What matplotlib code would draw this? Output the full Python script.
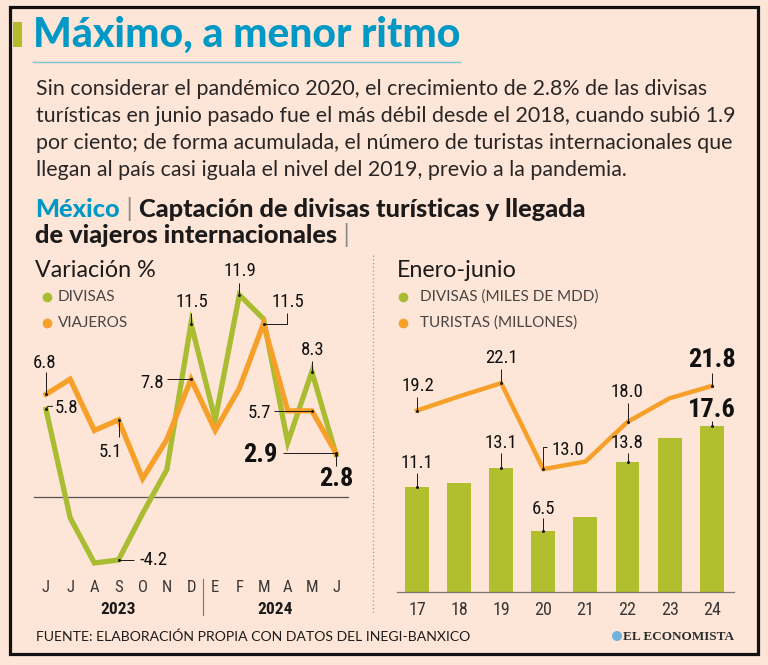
import matplotlib
matplotlib.use('Agg')
import matplotlib.pyplot as plt
from matplotlib import font_manager
from matplotlib.patches import Rectangle, Circle

# ---------------- data ----------------
months = ['J', 'J', 'A', 'S', 'O', 'N', 'D', 'E', 'F', 'M', 'A', 'M', 'J']
years_left = ['2023', '2024']
divisas_var = [5.8, -1.4, -4.4, -4.2, -1.1, 1.8, 11.5, 5.1, 13.4, 11.8, 3.6, 8.3, 2.8]
viajeros_var = [6.8, 7.8, 4.4, 5.1, 1.2, 3.8, 7.8, 4.4, 7.2, 11.5, 5.7, 5.7, 2.9]
divisas_var_labels = {0: '5.8', 3: '-4.2', 6: '11.5', 8: '11.9', 11: '8.3', 12: '2.8'}
viajeros_var_labels = {0: '6.8', 3: '5.1', 6: '7.8', 9: '11.5', 11: '5.7', 12: '2.9'}

anios = ['17', '18', '19', '20', '21', '22', '23', '24']
divisas_ene_jun = [11.1, 11.5, 13.1, 6.5, 7.9, 13.8, 16.3, 17.6]
turistas_ene_jun = [19.2, 20.7, 22.1, 13.0, 13.8, 18.0, 20.5, 21.8]
divisas_ene_jun_labels = {0: '11.1', 2: '13.1', 3: '6.5', 5: '13.8', 7: '17.6'}
turistas_ene_jun_labels = {0: '19.2', 2: '22.1', 3: '13.0', 5: '18.0', 7: '21.8'}

# ---------------- style ----------------
W, H = 768, 665
BG = '#fde6d7'
GREEN = '#aabd32'
ORANGE = '#f6a02a'
TEAL = '#0098c4'
DARK = '#1c1a1a'
GREY = '#3a3636'

names = {f.name for f in font_manager.fontManager.ttflist}
def pick(*c):
    for n in c:
        if n in names:
            return n
    return 'DejaVu Sans'
NARROW = pick('Liberation Sans Narrow', 'Roboto Condensed', 'DejaVu Sans')
GEO = pick('Lato', 'Open Sans', 'DejaVu Sans')
SERIF = pick('Liberation Serif', 'DejaVu Serif')

fig = plt.figure(figsize=(W / 100, H / 100), dpi=100)
fig.patch.set_facecolor(BG)

def fx(px):
    return px / W
def fy(py):
    return 1 - py / H

# overlay axes in pixel coordinates (decoration only)
ov = fig.add_axes([0, 0, 1, 1])
ov.set_xlim(0, W)
ov.set_ylim(H, 0)
ov.axis('off')
ov.patch.set_alpha(0)
ov.add_patch(Rectangle((10, 7), 748, 647, fill=False, lw=2.3, ec='#111111'))
ov.add_patch(Rectangle((13, 22), 9, 25, color='#b4bc2c', lw=0))
ov.plot([33, 460], [62, 62], color='#7cc3d8', lw=1.0)
ov.plot([373, 373], [255, 615], color='#9a9a9a', lw=0.9, ls=(0, (1, 2)))

fig.canvas.draw()
R = fig.canvas.get_renderer()
def tw(t):
    return t.get_window_extent(R).width
def fit(t, target):
    t.set_fontsize(t.get_fontsize() * target / tw(t))
    return t.get_fontsize()

# title
t = fig.text(fx(33), fy(47), 'Máximo, a menor ritmo', fontsize=24, weight='black',
             family=GEO, color=TEAL, va='baseline')
fit(t, 427)

body = ['Sin considerar el pandémico 2020, el crecimiento de 2.8% de las divisas',
        'turísticas en junio pasado fue el más débil desde el 2018, cuando subió 1.9',
        'por ciento; de forma acumulada, el número de turistas internacionales que',
        'llegan al país casi iguala el nivel del 2019, previo a la pandemia.']
BODYC = '#2a2626'
tmp = [fig.text(0, 0, s, fontsize=15, family=GEO, weight='normal') for s in body]
mx = max(tw(o) for o in tmp)
for o in tmp:
    o.remove()
bs = 15 * 701 / mx
for k, line in enumerate(body):
    fig.text(fx(36), fy(95 + 27 * k), line, fontsize=bs, weight='normal',
             family=GEO, color=BODYC, va='baseline')

def place_rich(x, y, parts, size):
    cx = x
    for s, kw in parts:
        o = fig.text(fx(cx), fy(y), s, fontsize=size, va='baseline', family=GEO, **kw)
        cx += tw(o)

p1 = [('México', dict(weight='black', color=TEAL)),
      (' | ', dict(weight='normal', color='#888888')),
      ('Captación de divisas turísticas y llegada', dict(weight='black', color=DARK))]
p2 = [('de viajeros internacionales', dict(weight='black', color=DARK)),
      (' |', dict(weight='normal', color='#888888'))]
tmp = [fig.text(0, 0, s, fontsize=14, family=GEO, **kw) for s, kw in p1]
total = sum(tw(o) for o in tmp)
for o in tmp:
    o.remove()
ss = 14 * 554 / total
place_rich(35, 217, p1, ss)
place_rich(35, 243, p2, ss)

# subtitles
t1 = fig.text(fx(35), fy(277), 'Variación %', fontsize=15, family=GEO, color=DARK, va='baseline')
fs_sub = fit(t1, 120)
fig.text(fx(397), fy(277), 'Enero-junio', fontsize=fs_sub, family=GEO, color=DARK, va='baseline')

# legends
LGC = '#4a4444'
lg = fig.text(fx(420), fy(297), 'DIVISAS (MILES DE MDD)', fontsize=11, weight='normal',
              family=GEO, color=LGC, va='center')
fs_lg = fit(lg, 178)
fig.text(fx(420), fy(323), 'TURISTAS (MILLONES)', fontsize=fs_lg, weight='normal',
         family=GEO, color=LGC, va='center')
fig.text(fx(58), fy(297), 'DIVISAS', fontsize=fs_lg, weight='normal', family=GEO, color=LGC, va='center')
fig.text(fx(58), fy(323), 'VIAJEROS', fontsize=fs_lg, weight='normal', family=GEO, color=LGC, va='center')
for (xx, yy, c) in [(47, 297, GREEN), (47, 323, ORANGE), (403, 297, GREEN), (403, 323, ORANGE)]:
    ov.plot([xx], [yy], 'o', ms=7, color=c, mec='none')

# source + logo
src = fig.text(fx(36), fy(637), 'FUENTE: ELABORACIÓN PROPIA CON DATOS DEL INEGI-BANXICO',
               fontsize=11, weight='normal', family=GEO, color=DARK, va='center')
fit(src, 437)
logo = fig.text(fx(623), fy(637), 'EL ECONOMISTA', fontsize=10, weight='bold', family=SERIF,
                color='#2b2b2b', va='center')
fit(logo, 111)
ov.add_patch(Circle((617, 636), 5, color='#6fb3dc', lw=0))

# ---------------- axes helpers ----------------
def make_ax(l, t, r, b, m):
    ax = fig.add_axes([l / W, 1 - b / H, (r - l) / W, (b - t) / H])
    ax.set_xlim((l - m['x0']) / m['dx'], (r - m['x0']) / m['dx'])
    ax.set_ylim((m['y0'] - b) / m['dy'], (m['y0'] - t) / m['dy'])
    ax.axis('off')
    ax.patch.set_alpha(0)
    return ax

def leader(ax, m, i, v, offs):
    xs = [i + dx / m['dx'] for dx, dy in offs]
    ys = [v - dy / m['dy'] for dx, dy in offs]
    ax.plot(xs, ys, color=DARK, lw=0.7, zorder=6, solid_capstyle='butt')
    ax.plot([i], [v], 'o', ms=2.2, color=DARK, mec='none', zorder=7)

def lab(ax, m, i, v, dx, dy, s, bold=False, ha='center'):
    ax.text(i + dx / m['dx'], v - dy / m['dy'], s, ha=ha, va='center',
            family=NARROW, fontsize=19 if bold else 13.5,
            weight='bold' if bold else 'normal', color='#111111', zorder=8)

# ---------------- left chart ----------------
mL = dict(x0=46, dx=24.17, y0=496.7, dy=15.06)
axL = make_ax(28, 255, 362, 620, mL)
xi = list(range(len(months)))
axL.plot([(34 - mL['x0']) / mL['dx'], (348 - mL['x0']) / mL['dx']], [0, 0], color='#555555', lw=0.9, zorder=1)
axL.plot(xi, divisas_var, color=GREEN, lw=3.8, zorder=3, solid_joinstyle='miter')
axL.plot(xi, viajeros_var, color=ORANGE, lw=3.8, zorder=4, solid_joinstyle='miter')

ymon = (mL['y0'] - 587) / mL['dy']
for i, mth in enumerate(months):
    axL.text(i, ymon, mth, ha='center', va='center', family=NARROW, fontsize=12,
             color=GREY)
yyr = (mL['y0'] - 610) / mL['dy']
axL.text(3, yyr, years_left[0], ha='center', va='center', family=NARROW, fontsize=12.5,
         weight='bold', color=DARK)
axL.text(9.5, yyr, years_left[1], ha='center', va='center', family=NARROW, fontsize=12.5,
         weight='bold', color=DARK)
axL.plot([6.5, 6.5], [(mL['y0'] - 579) / mL['dy'], (mL['y0'] - 615) / mL['dy']],
         color='#777777', lw=0.8)

orange_cfg = {0: ((-1, -31), [(0, -22), (0, 0)], False, 'center'),
              3: ((-8, 32), [(0, 0), (0, 17)], False, 'center'),
              6: ((-27, 4), [(-24, 0), (0, 0)], False, 'right'),
              9: ((24, -22), [(0, 0), (23, 0), (23, -11)], False, 'center'),
              11: ((-41, 2), [(-38, 0), (0, 0)], False, 'right'),
              12: ((-59, 2), [(-53, 0), (0, 0)], True, 'right')}
green_cfg = {0: ((9, -1), [(0, 0), (2, -3), (7, -3)], False, 'left'),
             3: ((21, 0), [(0, 0), (15, 0)], False, 'left'),
             6: ((1, -22), [(0, -11), (0, 0)], False, 'center'),
             8: ((1, -24), [(0, -12), (0, 0)], False, 'center'),
             11: ((1, -22), [(0, -11), (0, 0)], False, 'center'),
             12: ((0, 24), [(0, 0), (0, 11)], True, 'center')}
for i, s in viajeros_var_labels.items():
    (dx, dy), offs, bold, ha = orange_cfg[i]
    leader(axL, mL, i, viajeros_var[i], offs)
    lab(axL, mL, i, viajeros_var[i], dx, dy, s, bold, ha)
for i, s in divisas_var_labels.items():
    (dx, dy), offs, bold, ha = green_cfg[i]
    leader(axL, mL, i, divisas_var[i], offs)
    lab(axL, mL, i, divisas_var[i], dx, dy, s, bold, ha)

# ---------------- right chart ----------------
mR = dict(x0=417, dx=42.1, y0=592, dy=9.45)
axR = make_ax(380, 330, 750, 620, mR)
xr = list(range(len(anios)))
axR.bar(xr, divisas_ene_jun, width=0.57, color='#b1be2e', zorder=2)
axR.plot([(397 - mR['x0']) / mR['dx'], (734 - mR['x0']) / mR['dx']], [0, 0], color='#777777', lw=0.9, zorder=3)
axR.plot(xr, turistas_ene_jun, color=ORANGE, lw=3.2, zorder=4, solid_joinstyle='miter')
yan = (mR['y0'] - 610) / mR['dy']
for i, a in enumerate(anios):
    axR.text(i, yan, a, ha='center', va='center', family=NARROW, fontsize=13, color=GREY)

bar_cfg = {0: ((0, -24), [(0, -14), (0, 0)], False),
           2: ((0, -25), [(0, -15), (0, 0)], False),
           3: ((0, -22), [(0, -13), (0, 0)], False),
           5: ((0, -19), [(0, -9), (0, 0)], False),
           7: ((0, -16), [(0, -5), (0, 0)], True)}
line_cfg = {0: ((1, -25), [(0, -14), (0, 0)], False, 'center'),
            2: ((0, -25), [(0, -14), (0, 0)], False, 'center'),
            3: ((8, -19), [(0, 0), (0, -22), (4, -22)], False, 'left'),
            5: ((0, -30), [(0, -19), (0, 0)], False, 'center'),
            7: ((0, -26), [(0, -13), (0, 0)], True, 'center')}
for i, s in divisas_ene_jun_labels.items():
    (dx, dy), offs, bold = bar_cfg[i]
    leader(axR, mR, i, divisas_ene_jun[i], offs)
    lab(axR, mR, i, divisas_ene_jun[i], dx, dy, s, bold)
for i, s in turistas_ene_jun_labels.items():
    (dx, dy), offs, bold, ha = line_cfg[i]
    leader(axR, mR, i, turistas_ene_jun[i], offs)
    lab(axR, mR, i, turistas_ene_jun[i], dx, dy, s, bold, ha)

fig.savefig('out.png', dpi=100, facecolor=BG)
